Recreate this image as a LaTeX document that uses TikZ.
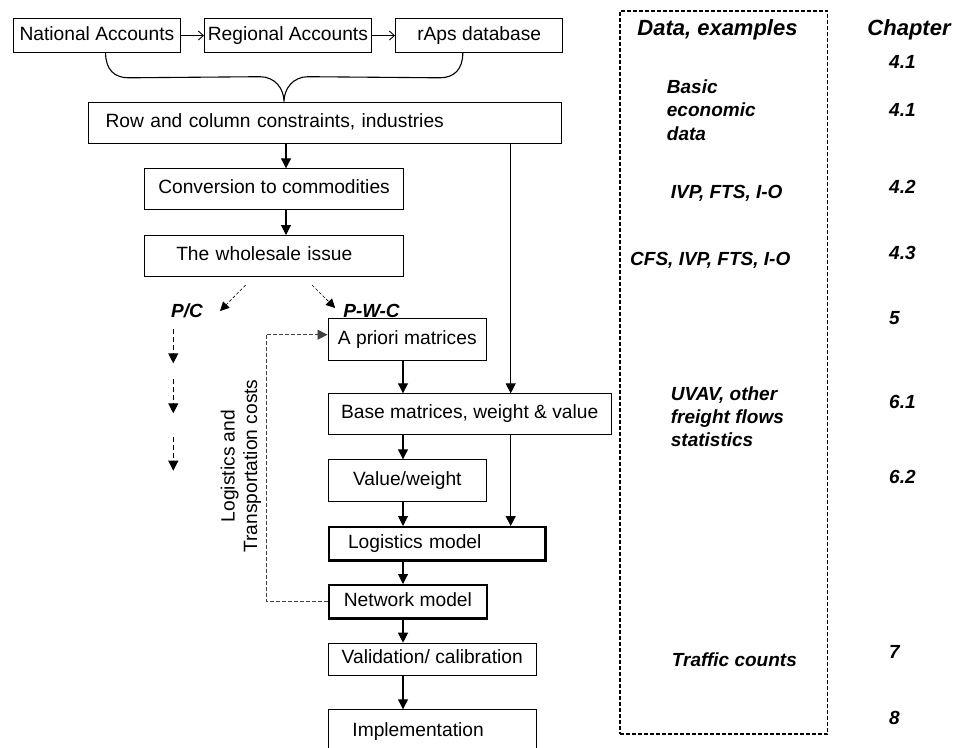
\documentclass[tikz,border=0pt]{standalone}
\usepackage{fontspec}
\setmainfont{Liberation Sans}
\usetikzlibrary{arrows.meta}
\newcommand{\boxfont}{\fontsize{19.2}{22.5}\selectfont}
\newcommand{\headfont}{\fontsize{22}{26}\selectfont\bfseries\itshape}
\newcommand{\notefont}{\fontsize{19}{23.3}\selectfont\bfseries\itshape}
\newcommand{\widthsource}{167.3pt}
\newcommand{\widthnarrow}{158.5pt}
\newcommand{\widthmid}{208.4pt}
\tikzset{
    common/.style={anchor=north west, draw, line width=1.1pt, inner ysep=0pt, font=\boxfont, text height=14pt, text depth=5pt},
    stage/.style={common, inner xsep=0pt},
    lstage/.style 2 args={common, align=left, text width=#1, inner xsep=#2},
    model/.style={line width=2.3pt},
    flow/.style={-{Triangle[length=10pt, width=10pt]}, line width=1.1pt},
    feed/.style={-{Straight Barb[length=5pt, width=9pt]}, line width=0.9pt},
    choice/.style={-{Triangle[length=9pt, width=9pt]}, line width=0.6pt, dash pattern=on 3pt off 2pt},
    pcdown/.style={-{Triangle[length=10pt, width=10pt]}, line width=0.9pt, dash pattern=on 5pt off 3pt},
    costs/.style={-{Triangle[length=10pt, width=10pt]}, line width=0.8pt, black!75, dash pattern=on 4pt off 2pt},
    brace/.style={line width=1.1pt},
    frame/.style={draw, anchor=north west, line width=1.6pt, dash pattern=on 4pt off 2pt, inner sep=0pt},
    note/.style={anchor=west, inner sep=0pt, font=\notefont, align=left},
    head/.style={inner sep=0pt, font=\headfont},
    label/.style={inner sep=0pt, font=\notefont}
}
\begin{document}
\begin{tikzpicture}[x=1pt, y=-1pt]
    \useasboundingbox (0,0) rectangle (955,747);

    \node[stage, minimum width=\widthsource, minimum height=33.4pt] (nat) at (12.7,18.3) {National Accounts};
    \node[stage, minimum width=166.7pt, minimum height=33.4pt] (reg) at (204,18.3) {Regional Accounts};
    \node[stage, minimum width=\widthsource, minimum height=33.4pt] (raps) at (395,18.3) {rAps database};
    \node[lstage={438.7pt}{17.3pt}, minimum height=41.6pt] (row) at (87.7,101.7) {Row and column constraints, industries};
    \node[stage, minimum width=258.4pt, minimum height=41pt] (conv) at (144.3,168.3) {Conversion to commodities};
    \node[lstage={195.6pt}{31.4pt}, minimum height=41pt] (whole) at (144.3,235) {The wholesale issue};
    \node[stage, minimum width=\widthnarrow, minimum height=41.7pt] (apriori) at (327.5,318.3) {A priori matrices};
    \node[stage, minimum width=283.2pt, minimum height=41pt] (base) at (327.5,393.3) {Base matrices, weight \& value};
    \node[stage, minimum width=\widthnarrow, minimum height=41.4pt] (valw) at (327.5,459.3) {Value/weight};
    \node[lstage={177.9pt}{19.4pt}, model, minimum height=33.3pt] (logm) at (327.5,526) {Logistics model};
    \node[stage, model, minimum width=\widthnarrow, minimum height=33.3pt] (netm) at (327.5,584) {Network model};
    \node[stage, minimum width=\widthmid, minimum height=32.3pt] (valid) at (327.5,642.7) {Validation/ calibration};
    \node[lstage={159.6pt}{24.4pt}, minimum height=45pt] (impl) at (327.5,709.3) {Implementation};

    \node[label] (pc) at (187,311) {P/C};
    \node[label] (pwc) at (371.5,311) {P-W-C};
    \node[rotate=90, align=center, font=\boxfont, inner sep=0pt] (costlbl) at (241,466) {Logistics and\\Transportation costs};

    \draw[feed] (nat) -- (reg);
    \draw[feed] (reg) -- (raps);

    \coordinate (bracel) at ([xshift=8.7pt]nat.south);
    \coordinate (bracer) at ([xshift=-16.4pt]raps.south);
    \coordinate (bracetip) at (284,101.7);
    \draw[brace] (bracel) .. controls +(0,17) and +(-14,0) .. ++(23,25)
        -- ([shift={(-24,-25)}]bracetip) .. controls +(15,0) and +(0,-13) .. (bracetip)
        .. controls +(0,-13) and +(-15,0) .. ([shift={(24,-25)}]bracetip)
        -- ([shift={(-23,25)}]bracer) .. controls +(14,0) and +(0,17) .. (bracer);

    \coordinate (lspine) at (286,0);
    \coordinate (spine) at (403,0);
    \coordinate (rspine) at (510.7,0);
    \foreach \a/\b in {row/conv, conv/whole}
        \draw[flow] (\a.south -| lspine) -- (\b.north -| lspine);
    \foreach \a/\b in {apriori/base, base/valw, valw/logm, logm/netm, netm/valid, valid/impl}
        \draw[flow] (\a.south -| spine) -- (\b.north -| spine);
    \draw[flow] (row.south -| rspine) -- (base.north -| rspine);
    \draw[flow] (base.south -| rspine) -- (logm.north -| rspine);

    \draw[choice] ([xshift=-28.5pt, yshift=-8pt]whole.south) -- ([xshift=17pt]pc.east);
    \draw[choice] ([xshift=38pt, yshift=-8pt]whole.south) -- ([xshift=-8pt, yshift=3pt]pwc.west);
    \foreach \d in {18.3, 68.3, 125.7}
        \draw[pcdown] ([xshift=-13.7pt, yshift=-\d]pc.center) -- ++(0,34);

    \coordinate (fbx) at (266,0);
    \draw[costs] (netm.west) -- (netm.west -| fbx) -- ([yshift=5pt]apriori.west -| fbx) -- ([yshift=5pt]apriori.west);

    \node[frame, minimum width=207.7pt, minimum height=723.3pt] (databox) at (619,10) {};
    \node[head] (datahd) at (717.5,30) {Data, examples};
    \node[head] (chaphd) at (909,30) {Chapter};
    \node[note] (basic) at (666.7,110) {Basic\\economic\\data};
    \node[note] (ivp) at (670.7,193.3) {IVP, FTS, I-O};
    \node[note] (cfs) at (630,260) {CFS, IVP, FTS, I-O};
    \node[note] (uvav) at (670.7,416.7) {UVAV, other\\freight flows\\statistics};
    \node[note] (traffic) at (671.7,660) {Traffic counts};
    \foreach \y/\c [count=\i] in {61.7/4.1, 110/4.1, 186.7/4.2, 253.3/4.3, 318.3/5, 401.7/6.1, 476.7/6.2, 651.7/7, 718.3/8}
        \node[note] (ch\i) at (889,\y) {\c};
\end{tikzpicture}
\end{document}
